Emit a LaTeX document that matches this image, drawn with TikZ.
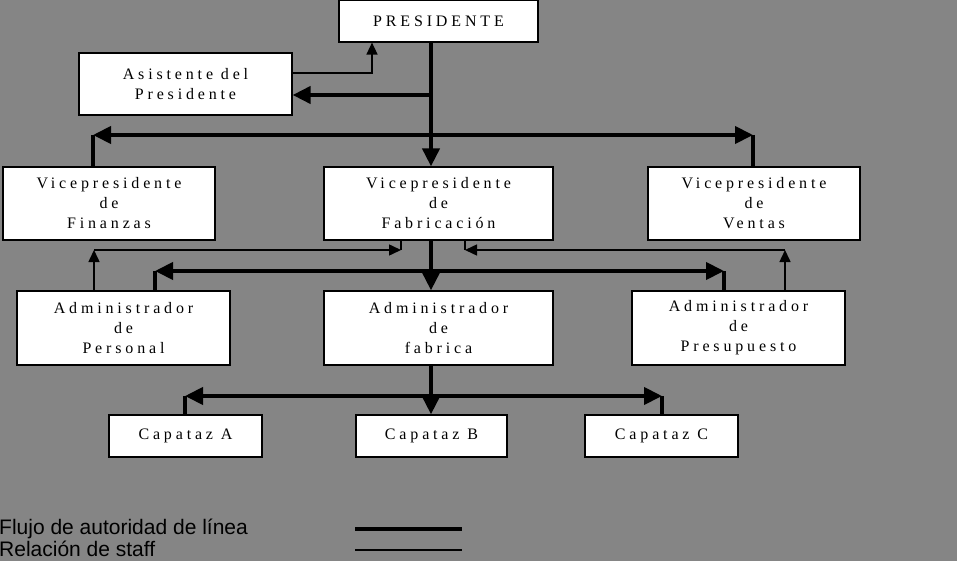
\documentclass[tikz,border=0pt]{standalone}
\usepackage{fontspec}
\setmainfont{Liberation Serif}[LetterSpace=24]
\newfontfamily\legfont{Liberation Sans}
\usetikzlibrary{arrows.meta}

\tikzset{
  caja/.style={draw,fill=white,line width=1.2pt,inner sep=0pt,align=center,
    font=\fontsize{16}{20}\selectfont},
  linea/.style={line width=4pt},
  staff/.style={line width=1.5pt},
  flechaG/.style={-{Triangle[length=18pt,width=17pt]}},
  flechaP/.style={-{Triangle[length=12pt,width=11pt]}}
}

\begin{document}
\begin{tikzpicture}[x=1pt,y=-1pt]
  \fill[gray!95!black,fill=black!48] (0,0) rectangle (957,561);
  \useasboundingbox (0,0) rectangle (957,561);

  % cajas
  \node[caja,minimum width=199,minimum height=42] (pres) at (438.5,21) {PRESIDENTE};
  \node[caja,minimum width=213,minimum height=62] (asis) at (185.5,84) {Asistente del\\Presidente};

  \node[caja,minimum width=212,minimum height=73] (vpfin) at (109,203.5) {Vicepresidente\\de\\Finanzas};
  \node[caja,minimum width=229,minimum height=73] (vpfab) at (438.5,203.5) {Vicepresidente\\de\\Fabricación};
  \node[caja,minimum width=212,minimum height=73] (vpven) at (754,203.5) {Vicepresidente\\de\\Ventas};

  \node[caja,minimum width=213,minimum height=74] (adper) at (123.5,328) {Administrador\\de\\Personal};
  \node[caja,minimum width=229,minimum height=74] (adfab) at (438.5,328) {Administrador\\de\\fabrica};
  \node[caja,minimum width=213,minimum height=74] (adpre) at (738.5,328) {Administrador\\de\\Presupuesto};

  \node[caja,minimum width=153,minimum height=42] (capa) at (185.5,436) {Capataz A};
  \node[caja,minimum width=151,minimum height=42] (capb) at (431.5,436) {Capataz B};
  \node[caja,minimum width=153,minimum height=42] (capc) at (661.5,436) {Capataz C};

  % puntos de quiebre
  \coordinate (p1) at (431,95);
  \coordinate (p2) at (372,73);
  \coordinate (v0) at (431,135);
  \coordinate (v1) at (93,135);
  \coordinate (v2) at (753,135);
  \coordinate (a0) at (431,271);
  \coordinate (a1) at (155,271);
  \coordinate (a2) at (724,271);
  \coordinate (c0) at (431,396);
  \coordinate (c1) at (185,396);
  \coordinate (c2) at (662,396);
  \coordinate (s1) at (94,250);
  \coordinate (s2) at (401,250);
  \coordinate (s3) at (785,250);
  \coordinate (s4) at (465,250);

  % autoridad de linea
  \draw[linea,flechaG] (pres.south -| v0) -- (vpfab.north -| v0);
  \draw[linea,flechaG] (p1) -- (asis.east |- p1);
  \draw[linea,flechaG] (v0) -- (v1);
  \draw[linea,flechaG] (v0) -- (v2);
  \draw[linea] (v1) -- (vpfin.north -| v1);
  \draw[linea] (v2) -- (vpven.north -| v2);

  \draw[linea,flechaG] (vpfab.south -| a0) -- (adfab.north -| a0);
  \draw[linea,flechaG] (a0) -- (a1);
  \draw[linea,flechaG] (a0) -- (a2);
  \draw[linea] (a1) -- (adper.north -| a1);
  \draw[linea] (a2) -- (adpre.north -| a2);

  \draw[linea,flechaG] (adfab.south -| c0) -- (capb.north -| c0);
  \draw[linea,flechaG] (c0) -- (c1);
  \draw[linea,flechaG] (c0) -- (c2);
  \draw[linea] (c1) -- (capa.north -| c1);
  \draw[linea] (c2) -- (capc.north -| c2);

  % staff
  \draw[staff,flechaP] (asis.east |- p2) -- (p2) -- (pres.south -| p2);
  \draw[staff,flechaP] (adper.north -| s1) -- (s1);
  \draw[staff,flechaP] (s1) -- (s2);
  \draw[staff] (s2) -- (vpfab.south -| s2);
  \draw[staff,flechaP] (adpre.north -| s3) -- (s3);
  \draw[staff,flechaP] (s3) -- (s4);
  \draw[staff] (s4) -- (vpfab.south -| s4);

  % leyenda
  \node[anchor=west,inner sep=0pt,font=\legfont\fontsize{21}{21}\selectfont] (ley1) at (-1,529) {Flujo de autoridad de línea};
  \node[anchor=west,inner sep=0pt,font=\legfont\fontsize{21}{21}\selectfont] (ley2) at (-1,549) {Relación de staff};
  \coordinate (l1) at (355,529);
  \coordinate (l2) at (462,529);
  \coordinate (l3) at (355,550);
  \coordinate (l4) at (462,550);
  \draw[linea] (l1) -- (l2);
  \draw[staff] (l3) -- (l4);
\end{tikzpicture}
\end{document}
